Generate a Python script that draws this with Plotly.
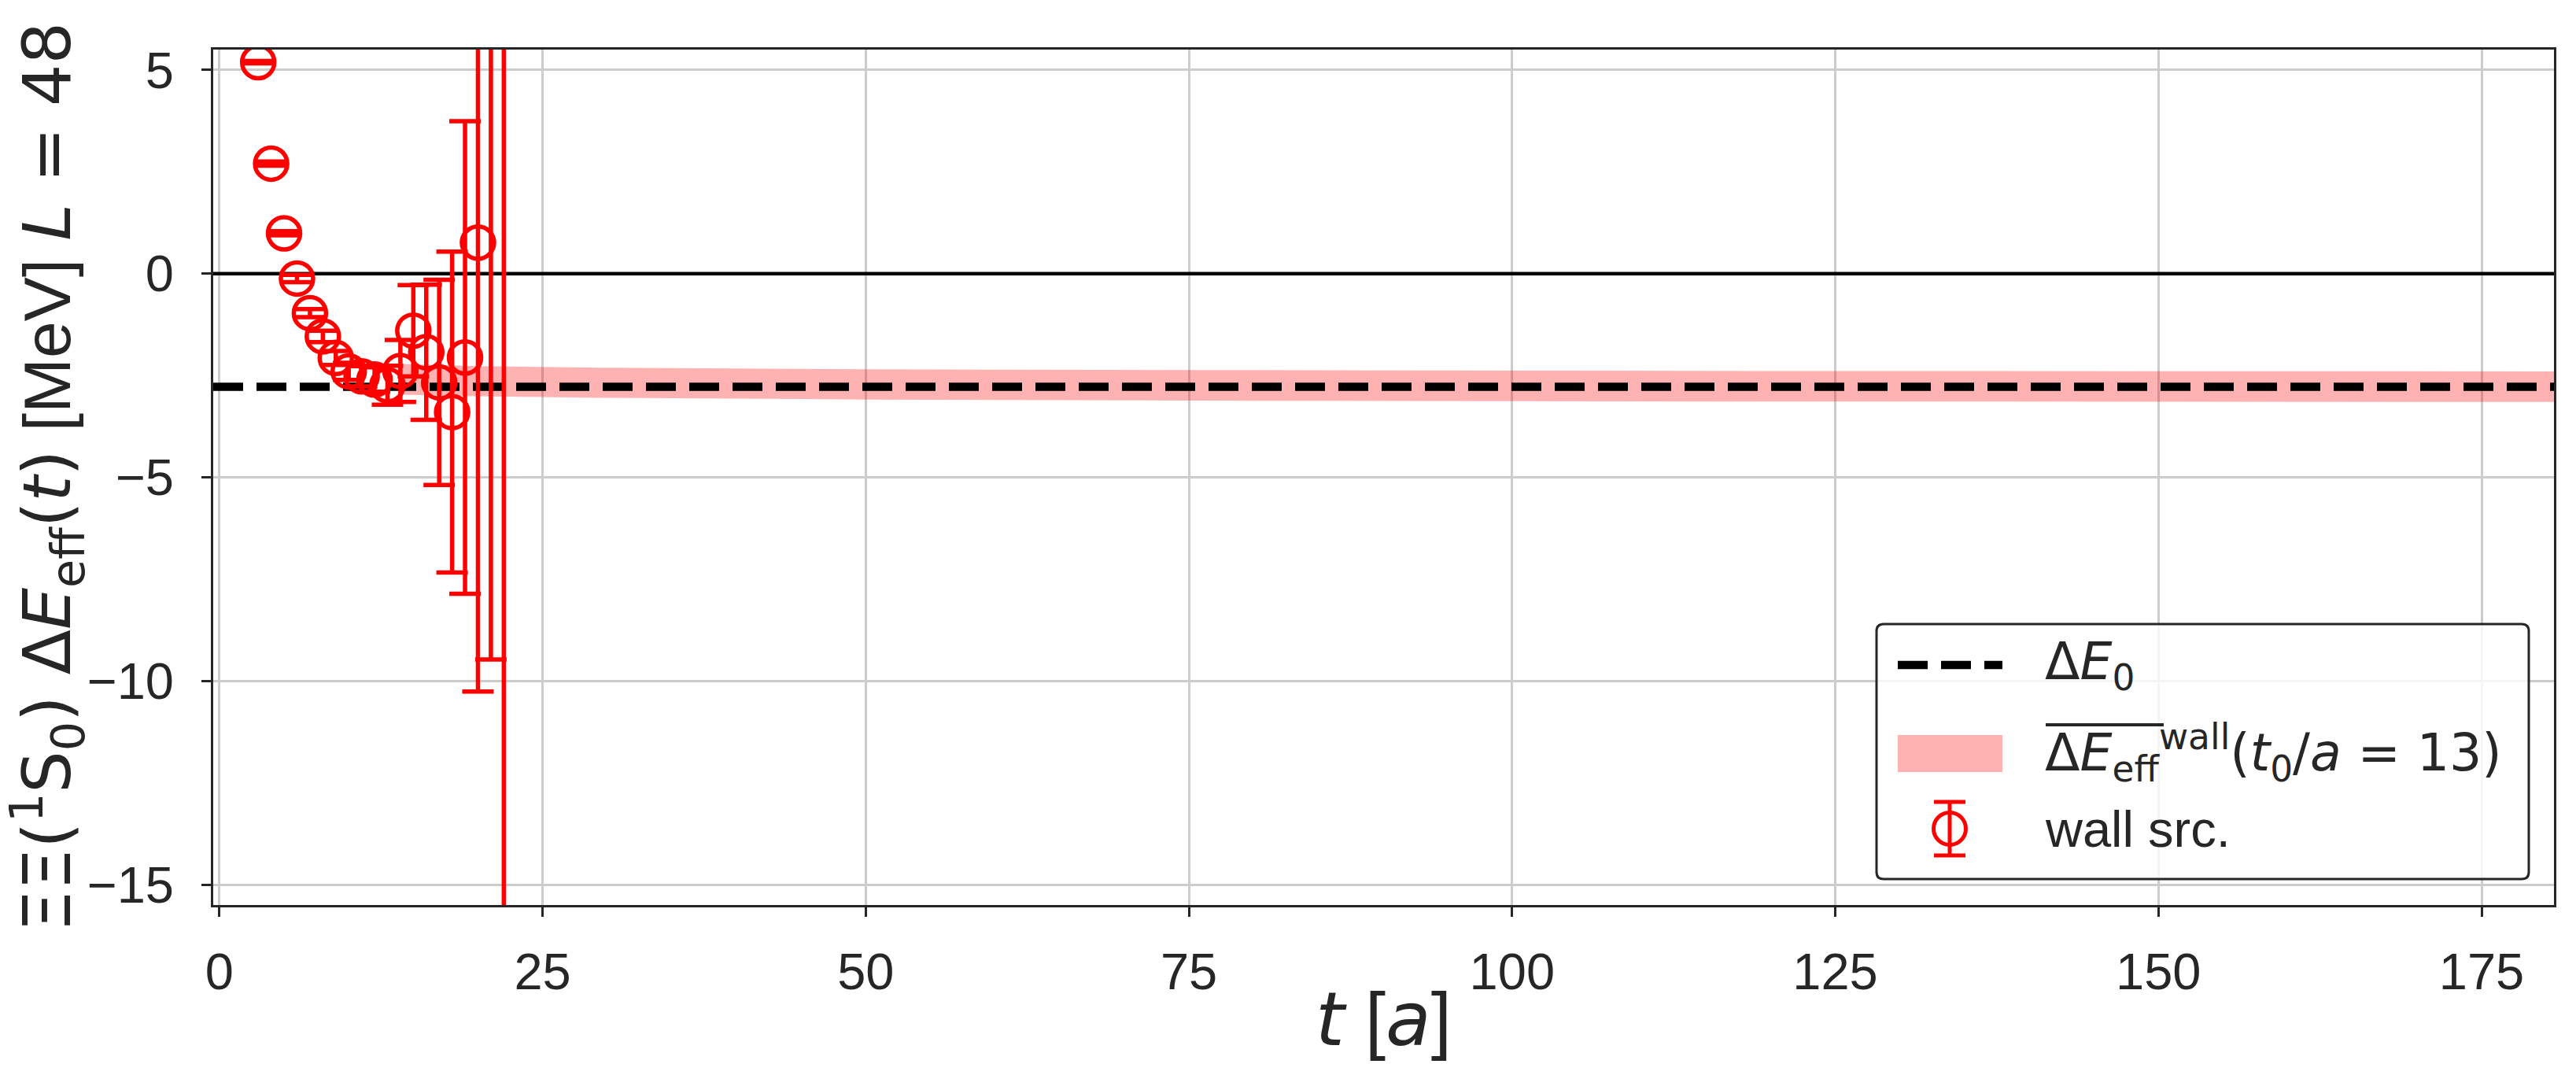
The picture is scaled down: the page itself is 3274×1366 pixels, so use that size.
import plotly.graph_objects as go

# ---------------- data ----------------
t_vals = [3, 4, 5, 6, 7, 8, 9, 10, 11, 12, 13, 14, 15, 16, 17, 18, 19, 20, 21, 22]
dE_vals = [5.19, 2.70, 0.99, -0.12, -0.97, -1.54, -2.07, -2.40, -2.52, -2.60,
           -2.74, -2.39, -1.40, -1.93, -2.67, -3.40, -2.06, 0.76, 8.0, 12.0]
dE_errs = [0.03, 0.05, 0.05, 0.09, 0.10, 0.14, 0.17, 0.21, 0.25, 0.30,
           0.48, 0.76, 1.12, 1.66, 2.52, 3.94, 5.80, 11.02, 17.47, 35.0]

band_t = [14, 20, 30, 50, 80, 120, 180.6]
band_hi = [-2.22, -2.27, -2.31, -2.35, -2.37, -2.39, -2.40]
band_lo = [-2.97, -3.01, -3.05, -3.09, -3.12, -3.14, -3.15]

dE0 = -2.78
zero_level = 0.0
x_range = [-0.48, 180.6]
y_range = [-15.5, 5.5]

x_ticks = [0, 25, 50, 75, 100, 125, 150, 175]
x_ticklabels = ["0", "25", "50", "75", "100", "125", "150", "175"]
y_ticks = [5, 0, -5, -10, -15]
y_ticklabels = ["5", "0", "\u22125", "\u221210", "\u221215"]

# ---------------- style ----------------
W, H = 3274, 1366
ML, MR, MT, MB = 271, 28, 63, 216
PW, PH = W - ML - MR, H - MT - MB
RED = "#ff0000"
DARK = "#262626"
SANS = "Liberation Sans, Arial, sans-serif"
MATH = "DejaVu Sans"
DASH = "38px,17px"


def px(xp):
    return (xp - ML) / PW


def py(yp):
    return (H - MB - yp) / PH


def m(s):
    return '<span style="font-family:%s">%s</span>' % (MATH, s)


fig = go.Figure()

# horizontal line at zero
fig.add_trace(go.Scatter(x=x_range, y=[zero_level, zero_level], mode="lines",
                         line=dict(color="black", width=4.5),
                         showlegend=False, hoverinfo="skip"))

# plateau band
fig.add_trace(go.Scatter(x=band_t, y=band_lo, mode="lines", line=dict(width=0),
                         showlegend=False, hoverinfo="skip"))
fig.add_trace(go.Scatter(x=band_t, y=band_hi, mode="lines", line=dict(width=0),
                         fill="tonexty", fillcolor="rgba(255,0,0,0.3)",
                         showlegend=False, hoverinfo="skip"))

# Delta E_0 dashed line
fig.add_trace(go.Scatter(x=x_range, y=[dE0, dE0], mode="lines",
                         line=dict(color="black", width=10.5, dash=DASH),
                         showlegend=False, hoverinfo="skip"))

# wall source effective energies
fig.add_trace(go.Scatter(
    x=t_vals, y=dE_vals, mode="markers",
    marker=dict(symbol="circle-open", size=41, color=RED, line=dict(width=5.5, color=RED)),
    error_y=dict(type="data", array=dE_errs, visible=True, color=RED, thickness=5.5, width=20),
    showlegend=False))

axis_common = dict(
    showline=True, linecolor=DARK, linewidth=3, mirror=True,
    ticks="outside", ticklen=12, tickwidth=3, tickcolor=DARK,
    showgrid=True, gridcolor="#cccccc", gridwidth=3, zeroline=False,
    tickfont=dict(family=SANS, size=65, color=DARK),
)

fig.update_layout(
    width=W, height=H, autosize=False,
    margin=dict(l=ML, r=MR, t=MT, b=MB, pad=0),
    paper_bgcolor="white", plot_bgcolor="white",
    showlegend=False,
    xaxis=dict(range=x_range, tickvals=x_ticks, ticktext=x_ticklabels,
               ticklabelstandoff=14, **axis_common),
    yaxis=dict(range=y_range, tickvals=y_ticks, ticktext=y_ticklabels,
               ticklabelstandoff=22, **axis_common),
)

# axis titles
annotations = [
    dict(text="<i>" + m("t") + "</i> [<i>" + m("a") + "</i>]", x=0.5, y=py(1295),
         xref="paper", yref="paper", xanchor="center", yanchor="middle", showarrow=False,
         font=dict(family=SANS, size=94, color=DARK)),
    dict(text=m("\u039e\u039e(<sup>1</sup>S<sub>0</sub>) \u0394<i>E</i><sub>eff</sub>(<i>t</i>)")
         + " [MeV] " + m("<i>L</i> = 48"),
         x=px(60), y=py(606), xref="paper", yref="paper", textangle=-90,
         xanchor="center", yanchor="middle", showarrow=False,
         font=dict(family=SANS, size=84, color=DARK)),
]

# ---------------- manual legend ----------------
bx0, bx1, by0, by1 = 2385, 3214, 793, 1117
r = 9
path = ("M {a},{b} L {c},{b} Q {x1},{b} {x1},{d} L {x1},{e} Q {x1},{f} {c},{f} "
        "L {a},{f} Q {x0},{f} {x0},{e} L {x0},{d} Q {x0},{b} {a},{b} Z").format(
    a=px(bx0 + r), c=px(bx1 - r), x0=px(bx0), x1=px(bx1),
    b=py(by0), d=py(by0 + r), e=py(by1 - r), f=py(by1))
shapes = [
    dict(type="path", path=path, xref="paper", yref="paper", layer="above",
         fillcolor="rgba(255,255,255,0.8)", line=dict(color=DARK, width=3)),
    # dashed line sample
    dict(type="line", xref="paper", yref="paper", x0=px(2412), x1=px(2545),
         y0=py(845), y1=py(845), layer="above",
         line=dict(color="black", width=10.5, dash=DASH)),
    # band sample
    dict(type="rect", xref="paper", yref="paper", x0=px(2412), x1=px(2545),
         y0=py(934), y1=py(981), layer="above",
         fillcolor="rgba(255,0,0,0.3)", line=dict(width=0)),
    # overline on Delta E_eff
    dict(type="line", xref="paper", yref="paper", x0=px(2600), x1=px(2750),
         y0=py(921), y1=py(921), layer="above", line=dict(color=DARK, width=4)),
    # error-bar marker sample
    dict(type="line", xref="paper", yref="paper", x0=px(2478), x1=px(2478),
         y0=py(1019), y1=py(1087), layer="above", line=dict(color=RED, width=5)),
    dict(type="line", xref="paper", yref="paper", x0=px(2458), x1=px(2498),
         y0=py(1019), y1=py(1019), layer="above", line=dict(color=RED, width=5)),
    dict(type="line", xref="paper", yref="paper", x0=px(2458), x1=px(2498),
         y0=py(1087), y1=py(1087), layer="above", line=dict(color=RED, width=5)),
    dict(type="circle", xref="paper", yref="paper", x0=px(2457.5), x1=px(2498.5),
         y0=py(1032.5), y1=py(1073.5), layer="above", line=dict(color=RED, width=5)),
]

leg_font = dict(family=SANS, size=65, color=DARK)
for txt, yc in [
    (m("\u0394<i>E</i><sub>0</sub>"), 845),
    (m("\u0394<i>E</i><sub>eff</sub><sup>wall</sup>(<i>t</i><sub>0</sub>/<i>a</i> = 13)"), 957),
    ("wall src.", 1053),
]:
    annotations.append(dict(text=txt, x=px(2597), y=py(yc), xref="paper", yref="paper",
                            xanchor="left", yanchor="middle", showarrow=False,
                            font=leg_font))

fig.update_layout(shapes=shapes, annotations=annotations)
fig.write_html("out.html")
